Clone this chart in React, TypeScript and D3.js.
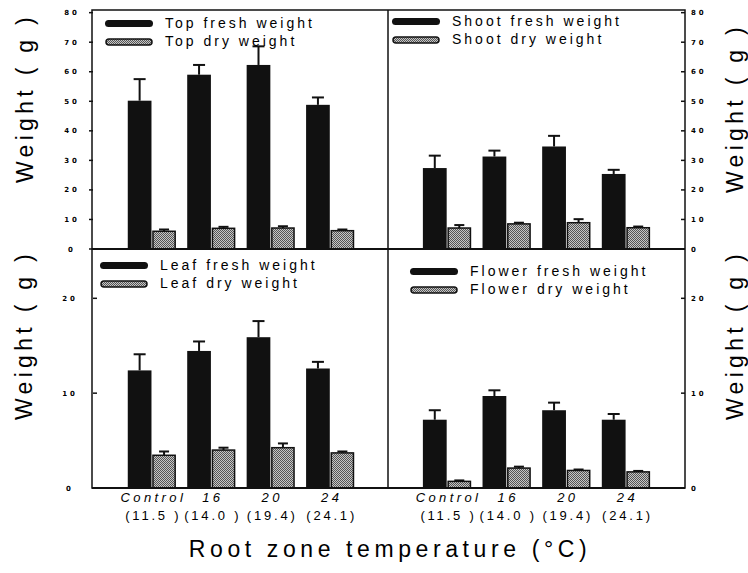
import React from 'react';
import * as d3 from 'd3';

// Root zone temperature treatments (set point, then measured)
const temps = ['Control', '16', '20', '24'];
const tempsMeasured = ['(11.5 )', '(14.0 )', '(19.4)', '(24.1)'];
const tempsMeasuredRight = ['(11.5  )', '(14.0 )', '(19.4)', '(24.1)'];

// Top weight (g)
const topFresh = [50.2, 59.0, 62.3, 48.8];
const topFreshErr = [7.3, 3.3, 6.3, 2.5];
const topDry = [6.0, 7.0, 7.1, 6.2];
const topDryErr = [0.6, 0.5, 0.6, 0.4];

// Shoot weight (g)
const shootFresh = [27.4, 31.3, 34.7, 25.4];
const shootFreshErr = [4.2, 2.0, 3.6, 1.4];
const shootDry = [7.1, 8.5, 8.9, 7.2];
const shootDryErr = [1.0, 0.4, 1.2, 0.4];

// Leaf weight (g)
const leafFresh = [12.4, 14.45, 15.9, 12.6];
const leafFreshErr = [1.7, 1.0, 1.7, 0.7];
const leafDry = [3.45, 4.0, 4.25, 3.7];
const leafDryErr = [0.4, 0.25, 0.45, 0.15];

// Flower weight (g)
const flowerFresh = [7.2, 9.7, 8.2, 7.2];
const flowerFreshErr = [1.0, 0.6, 0.8, 0.6];
const flowerDry = [0.7, 2.1, 1.85, 1.7];
const flowerDryErr = [0.1, 0.15, 0.1, 0.1];

const upperTicks = [0, 10, 20, 30, 40, 50, 60, 70, 80];
const lowerTicks = [0, 10, 20];

const W = 748;
const H = 573;
const FONT = '"Liberation Sans", Arial, Helvetica, sans-serif';

// frame
const left = 92;
const mid = 388;
const right = 685;
const top = 10;
const midY = 249;
const bottom = 488;

const yUpper = d3.scaleLinear().domain([0, 80.9]).range([midY, top]);
const yLower = d3.scaleLinear().domain([0, 25.2]).range([bottom, midY]);

const Panel = ({ x0Range, y, fresh, freshErr, dry, dryErr, legend, legendPos, ticks, tickSide, tickOut, tickX, tickAnchor, catLabels, subLabels }) => {
  const x0 = d3.scaleBand().domain(temps).range(x0Range).paddingInner(0.19).paddingOuter(0.585);
  const x1 = d3.scaleBand().domain(['fresh', 'dry']).range([0, x0.bandwidth()]).paddingInner(0.03);
  const axisX = tickSide === 'left' ? x0Range[0] : x0Range[1];
  const dir = (tickSide === 'left' ? -1 : 1) * (tickOut ? 1 : -1);
  const [lx, ly] = legendPos;

  return (
    <g>
      {ticks.map(t => (
        <g key={t}>
          <line x1={axisX} x2={axisX + dir * 4} y1={y(t)} y2={y(t)} stroke="#111" strokeWidth={1.5} />
          <text x={tickX} y={y(t) + 2.5} textAnchor={tickAnchor} fontSize={7} fontWeight="bold"
            fontFamily='"DejaVu Sans", sans-serif' letterSpacing={3}>{t}</text>
        </g>
      ))}

      {temps.map((c, i) => {
        const gx = x0(c);
        const fx = gx + x1('fresh');
        const dx = gx + x1('dry');
        const bw = x1.bandwidth();
        const fTop = y(fresh[i]);
        const fErr = y(fresh[i] + freshErr[i]);
        const dTop = y(dry[i]);
        const dErr = y(dry[i] + dryErr[i]);
        return (
          <g key={c}>
            <line x1={fx + bw / 2} x2={fx + bw / 2} y1={fTop} y2={fErr} stroke="#111" strokeWidth={2} />
            <line x1={fx + bw / 2 - 6} x2={fx + bw / 2 + 6} y1={fErr} y2={fErr} stroke="#111" strokeWidth={2} />
            <rect x={fx} y={fTop} width={bw} height={y(0) - fTop} fill="#111" />
            <line x1={dx + bw / 2} x2={dx + bw / 2} y1={dTop} y2={dErr} stroke="#111" strokeWidth={2} />
            <line x1={dx + bw / 2 - 5} x2={dx + bw / 2 + 5} y1={dErr} y2={dErr} stroke="#111" strokeWidth={2} />
            <rect x={dx + 0.75} y={dTop} width={bw - 1.5} height={y(0) - dTop} fill="url(#stipple)" stroke="#111" strokeWidth={1.5} />
            {catLabels && (
              <text x={gx + x0.bandwidth() / 2 + 1.5} y={502} textAnchor="middle" fontSize={13} fontStyle="italic"
                fontFamily={FONT} letterSpacing={3.4}>{c}</text>
            )}
            {subLabels && (
              <text x={gx + x0.bandwidth() / 2 + 1.5} y={520} textAnchor="middle" fontSize={13}
                fontFamily={FONT} letterSpacing={2.8}>{subLabels[i]}</text>
            )}
          </g>
        );
      })}

      <rect x={lx} y={ly} width={48} height={7} rx={3.5} fill="#111" />
      <text x={lx + 60} y={ly + 8} fontSize={14} fontFamily={FONT} letterSpacing={3}>{legend[0]}</text>
      <rect x={lx + 1} y={ly + 19} width={46} height={6} rx={3} fill="url(#stipple)" stroke="#111" strokeWidth={1.5} />
      <text x={lx + 60} y={ly + 26} fontSize={14} fontFamily={FONT} letterSpacing={3}>{legend[1]}</text>
    </g>
  );
};

const App = () => {
  return (
    <svg width={W} height={H} style={{ position: 'absolute', left: 0, top: 0, background: '#fff' }}>
      <defs>
        <pattern id="stipple" width={2} height={2} patternUnits="userSpaceOnUse">
          <rect width={2} height={2} fill="#c6c6c6" />
          <rect x={0} y={0} width={1} height={1} fill="#555" />
          <rect x={1} y={1} width={1} height={1} fill="#555" />
        </pattern>
      </defs>
      <rect width={W} height={H} fill="#fff" />

      <Panel x0Range={[left + 1, mid + 1]} y={yUpper} fresh={topFresh} freshErr={topFreshErr} dry={topDry} dryErr={topDryErr}
        legend={['Top fresh weight', 'Top dry weight']} legendPos={[105, 20]} ticks={upperTicks}
        tickSide="left" tickOut={true} tickX={72} tickAnchor="middle" />
      <Panel x0Range={[mid, right]} y={yUpper} fresh={shootFresh} freshErr={shootFreshErr} dry={shootDry} dryErr={shootDryErr}
        legend={['Shoot fresh weight', 'Shoot dry weight']} legendPos={[392, 18]} ticks={upperTicks}
        tickSide="right" tickOut={false} tickX={691} tickAnchor="start" />
      <Panel x0Range={[left + 1, mid + 1]} y={yLower} fresh={leafFresh} freshErr={leafFreshErr} dry={leafDry} dryErr={leafDryErr}
        legend={['Leaf fresh weight', 'Leaf dry weight']} legendPos={[100, 262]} ticks={lowerTicks}
        tickSide="left" tickOut={false} tickX={70} tickAnchor="middle" catLabels={true} subLabels={tempsMeasured} />
      <Panel x0Range={[mid, right]} y={yLower} fresh={flowerFresh} freshErr={flowerFreshErr} dry={flowerDry} dryErr={flowerDryErr}
        legend={['Flower fresh weight', 'Flower dry weight']} legendPos={[410, 268]} ticks={lowerTicks}
        tickSide="right" tickOut={false} tickX={691} tickAnchor="start" catLabels={true} subLabels={tempsMeasuredRight} />

      {/* frame */}
      <rect x={left} y={top} width={right - left} height={bottom - top} fill="none" stroke="#111" strokeWidth={1.5} />
      <line x1={mid} x2={mid} y1={top} y2={bottom} stroke="#111" strokeWidth={1.5} />
      <line x1={left} x2={right} y1={midY} y2={midY} stroke="#111" strokeWidth={2} />
      <line x1={left} x2={right} y1={bottom} y2={bottom} stroke="#111" strokeWidth={2} />

      {/* axis titles */}
      {[[33, 98], [32, 335]].map(([x, yy], i) => (
        <text key={'l' + i} transform={`translate(${x},${yy}) rotate(-90)`} textAnchor="middle" fontSize={23}
          fontFamily={FONT} letterSpacing={4.3}>Weight ( g )</text>
      ))}
      {[[743, 108], [743, 335]].map(([x, yy], i) => (
        <text key={'r' + i} transform={`translate(${x},${yy}) rotate(-90)`} textAnchor="middle" fontSize={23}
          fontFamily={FONT} letterSpacing={4.3}>Weight ( g )</text>
      ))}
      <text x={390} y={557} textAnchor="middle" fontSize={23} fontFamily={FONT} letterSpacing={4.6}>Root zone temperature (°C)</text>
    </svg>
  );
};

export default App;
